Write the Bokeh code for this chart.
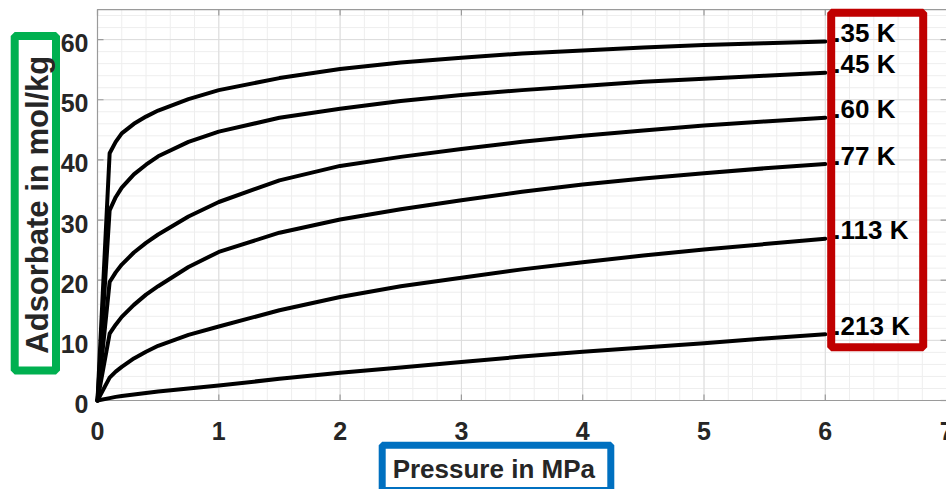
import numpy as np
from bokeh.plotting import figure
from bokeh.models import BoxAnnotation, ColumnDataSource, Range1d
from bokeh.core.properties import value
from bokeh.embed import file_html
from bokeh.resources import INLINE

# Adsorption isotherms: adsorbed amount vs. pressure at several temperatures
pressure = [0, 0.1, 0.15, 0.2, 0.3, 0.4, 0.5, 0.75, 1, 1.5, 2, 2.5, 3, 3.5, 4, 4.5, 5, 5.5, 6]

uptake_35K = [0, 41.1, 43.0, 44.4, 46.0, 47.2, 48.2, 50.1, 51.6, 53.6, 55.1, 56.2, 57.0, 57.7, 58.2, 58.7, 59.1, 59.4, 59.7]
uptake_45K = [0, 31.6, 33.8, 35.4, 37.6, 39.2, 40.6, 43.0, 44.7, 47.0, 48.5, 49.8, 50.8, 51.6, 52.3, 53.0, 53.5, 54.0, 54.5]
uptake_60K = [0, 19.7, 21.3, 22.6, 24.6, 26.2, 27.6, 30.6, 33.0, 36.6, 39.0, 40.5, 41.8, 43.0, 44.0, 44.9, 45.7, 46.4, 47.0]
uptake_77K = [0, 11.1, 12.6, 13.9, 15.9, 17.6, 19.0, 22.2, 24.7, 27.9, 30.1, 31.8, 33.3, 34.7, 35.9, 36.9, 37.8, 38.6, 39.3]
uptake_113K = [0, 3.8, 4.8, 5.6, 7.0, 8.1, 9.1, 10.9, 12.3, 15.0, 17.2, 19.0, 20.4, 21.8, 23.0, 24.1, 25.1, 26.0, 26.9]
uptake_213K = [0, 0.4, 0.6, 0.75, 1.0, 1.25, 1.5, 2.0, 2.5, 3.6, 4.6, 5.5, 6.4, 7.3, 8.1, 8.8, 9.5, 10.3, 11.0]

temperatures = ["35 K", "45 K", "60 K", "77 K", "113 K", "213 K"]
series = [uptake_35K, uptake_45K, uptake_60K, uptake_77K, uptake_113K, uptake_213K]

x_ticks = [0, 1, 2, 3, 4, 5, 6, 7]
x_tick_labels = ["0", "1", "2", "3", "4", "5", "6", "7"]
y_ticks = [0, 10, 20, 30, 40, 50, 60]
y_tick_labels = ["0", "10", "20", "30", "40", "50", "60"]

X_LIM = (0, 7)
Y_LIM = (0, 65)

# page geometry (pixels)
W, H = 946, 489
LEFT_PX = 97          # where x = 0 sits
BOTTOM_PX = 400       # where y = 0 sits (from the top)
PX_X = 121.3          # pixels per MPa
PX_Y = 6.015          # pixels per mol/kg
DROP = 0.32           # baseline correction for text, in em


def dx(px):
    return px / PX_X


def dy(px):
    return px / PX_Y


def xd(px):           # canvas x pixel -> data x
    return (px - LEFT_PX) / PX_X


def yd(px):           # canvas y pixel (from top) -> data y
    return (BOTTOM_PX - px) / PX_Y


FONT = "Liberation Sans"
TEXT = "#262626"
AXIS = "#9a9a9a"

# the frame fills the whole canvas; axes, grid and titles are drawn inside it
p = figure(width=W, height=H,
           x_range=Range1d(xd(0), xd(W)), y_range=Range1d(yd(H), yd(0)),
           output_backend="svg", toolbar_location=None,
           min_border=0, outline_line_color=None,
           background_fill_color="white", border_fill_color="white")
p.axis.visible = False
p.grid.visible = False

# grid: minor lines every 0.2 MPa / 2 mol/kg, major at the ticks
minor_x = np.round(np.arange(X_LIM[0], X_LIM[1] + 1e-9, 0.2), 6)
minor_y = np.arange(Y_LIM[0], Y_LIM[1] + 1e-9, 2.0)
p.segment(x0=minor_x, x1=minor_x, y0=Y_LIM[0], y1=Y_LIM[1], line_color="#eeeeee", line_width=1)
p.segment(x0=X_LIM[0], x1=X_LIM[1], y0=minor_y, y1=minor_y, line_color="#eeeeee", line_width=1)
p.segment(x0=x_ticks, x1=x_ticks, y0=Y_LIM[0], y1=Y_LIM[1], line_color="#dcdcdc", line_width=1)
p.segment(x0=X_LIM[0], x1=X_LIM[1], y0=y_ticks, y1=y_ticks, line_color="#dcdcdc", line_width=1)

# box frame with inward ticks on all four sides
p.quad(left=X_LIM[0], right=X_LIM[1], bottom=Y_LIM[0], top=Y_LIM[1],
       fill_color=None, line_color=AXIS, line_width=1.2)
tick = 6
p.segment(x0=x_ticks, x1=x_ticks, y0=Y_LIM[0], y1=Y_LIM[0] + dy(tick), line_color=AXIS, line_width=1.2)
p.segment(x0=x_ticks, x1=x_ticks, y0=Y_LIM[1], y1=Y_LIM[1] - dy(tick), line_color=AXIS, line_width=1.2)
p.segment(x0=X_LIM[0], x1=X_LIM[0] + dx(tick), y0=y_ticks, y1=y_ticks, line_color=AXIS, line_width=1.2)
p.segment(x0=X_LIM[1], x1=X_LIM[1] - dx(tick), y0=y_ticks, y1=y_ticks, line_color=AXIS, line_width=1.2)

# tick labels
TICK_FS = 25
tick_font = dict(text_font=value(FONT), text_font_style="bold",
                 text_font_size=f"{TICK_FS}px", text_color=TEXT)
p.text(x=x_ticks, y=[Y_LIM[0] - dy(38.3 - DROP * TICK_FS)] * len(x_ticks), text=x_tick_labels,
       text_align="center", text_baseline="alphabetic", **tick_font)
p.text(x=[X_LIM[0] - dx(9)] * len(y_ticks), y=[t - dy(11.5 - DROP * TICK_FS) for t in y_ticks],
       text=y_tick_labels, text_align="right", text_baseline="alphabetic", **tick_font)

# isotherms
for vals in series:
    p.line(pressure, vals, line_width=4, line_color="black", line_join="round", line_cap="round")

# highlight frame around the temperature labels
p.add_layout(BoxAnnotation(left=xd(830.7), right=xd(922.7), top=yd(12.3), bottom=yd(346.7),
                           fill_alpha=0, line_color="#C00000", line_alpha=1, line_width=8))

LBL_FS = 26
label_src = ColumnDataSource(dict(
    x=[pressure[-1]] * len(series),
    y=[s[-1] + dy(DROP * LBL_FS) for s in series],
    t=["." + t for t in temperatures],
))
lbl = p.text(x="x", y="y", text="t", source=label_src, x_offset=8,
             text_font=value(FONT), text_font_style="bold", text_font_size=f"{LBL_FS}px",
             text_color="black", text_align="left", text_baseline="alphabetic")
lbl.level = "overlay"

# axis titles in coloured frames
p.add_layout(BoxAnnotation(left=xd(381.7), right=xd(610.3), top=yd(444.7), bottom=yd(490),
                           fill_color="white", fill_alpha=1,
                           line_color="#0070C0", line_alpha=1, line_width=7))
p.add_layout(BoxAnnotation(left=xd(14.2), right=xd(55.5), top=yd(35.5), bottom=yd(370),
                           fill_color="white", fill_alpha=1,
                           line_color="#00B050", line_alpha=1, line_width=8))

XT_FS, YT_FS = 26, 31
xt = p.text(x=[xd(493.3)], y=[yd(476.7 - DROP * XT_FS)], text=["Pressure in MPa"],
            text_font=value(FONT), text_font_style="bold", text_font_size=f"{XT_FS}px",
            text_color=TEXT, text_align="center", text_baseline="alphabetic")
yt = p.text(x=[xd(46.7 - DROP * YT_FS)], y=[yd(204.2)], text=["Adsorbate in mol/kg"], angle=np.pi / 2,
            text_font=value(FONT), text_font_style="bold", text_font_size=f"{YT_FS}px",
            text_color=TEXT, text_align="center", text_baseline="alphabetic")
xt.level = "overlay"
yt.level = "overlay"

open("out.html", "w").write(file_html(p, INLINE))
